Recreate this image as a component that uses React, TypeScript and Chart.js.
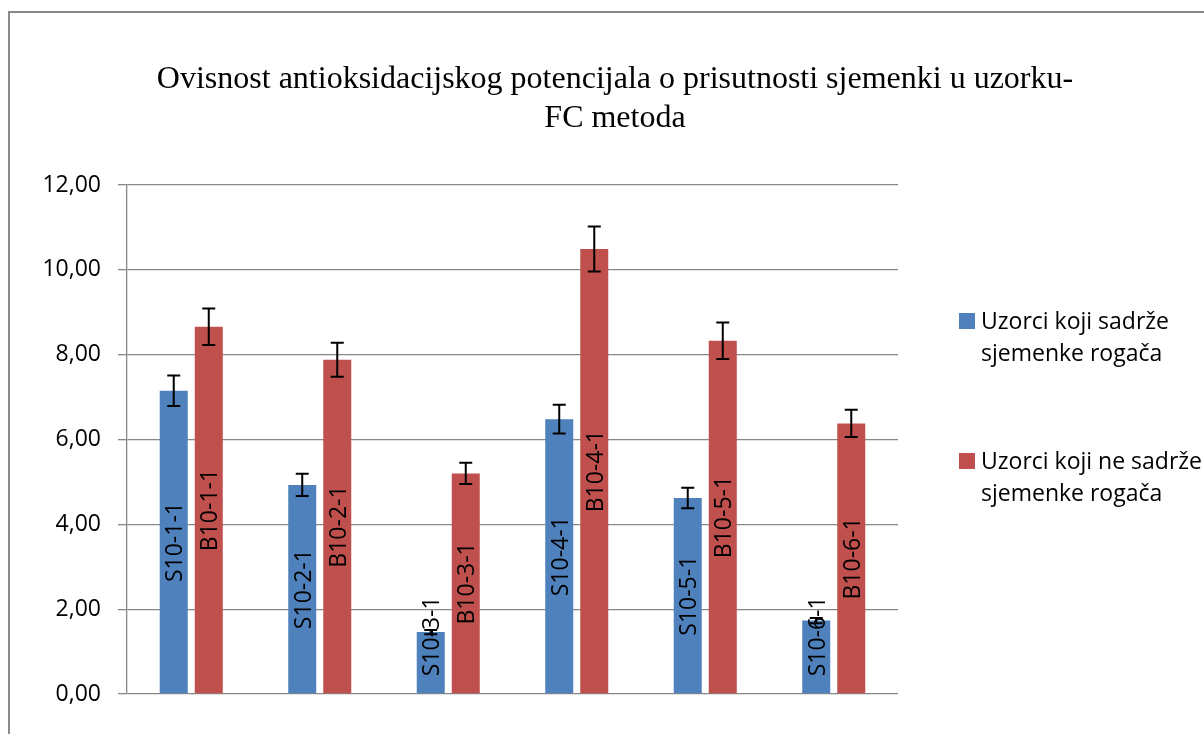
import React, { useEffect, useRef } from "react";
import { Chart, registerables } from "chart.js";

Chart.register(...registerables);

// ---- data ----
const categories = ["1", "2", "3", "4", "5", "6"];
const seriesNames = [
  "Uzorci koji sadrže sjemenke rogača",
  "Uzorci koji ne sadrže sjemenke rogača",
];
const withSeeds = [7.15, 4.93, 1.46, 6.48, 4.62, 1.73];
const withSeedsErr = [0.36, 0.26, 0.05, 0.34, 0.24, 0.06];
const withoutSeeds = [8.66, 7.88, 5.2, 10.49, 8.33, 6.38];
const withoutSeedsErr = [0.43, 0.4, 0.25, 0.53, 0.43, 0.32];
const withSeedsLabels = ["S10-1-1", "S10-2-1", "S10-3-1", "S10-4-1", "S10-5-1", "S10-6-1"];
const withoutSeedsLabels = ["B10-1-1", "B10-2-1", "B10-3-1", "B10-4-1", "B10-5-1", "B10-6-1"];
const titleLines = [
  "Ovisnost antioksidacijskog potencijala o prisutnosti sjemenki u uzorku-",
  "FC metoda",
];
const yMin = 0;
const yMax = 12;
const yStep = 2;

const BLUE = "#4F81BD";
const RED = "#C0504D";
const GRID = "#878787";
const SANS = "'Open Sans', sans-serif";
const SERIF = "'Liberation Serif', 'Times New Roman', serif";

const errors = [withSeedsErr, withoutSeedsErr];
const barLabels = [withSeedsLabels, withoutSeedsLabels];

function wrapWords(ctx: CanvasRenderingContext2D, text: string, maxW: number): string[] {
  const words = text.split(" ");
  const lines: string[] = [];
  let cur = "";
  for (const w of words) {
    const test = cur ? cur + " " + w : w;
    if (ctx.measureText(test).width > maxW && cur) {
      lines.push(cur);
      cur = w;
    } else cur = test;
  }
  if (cur) lines.push(cur);
  return lines;
}

const extrasPlugin = {
  id: "extras",
  afterDatasetsDraw(chart: any) {
    const ctx: CanvasRenderingContext2D = chart.ctx;
    const yScale = chart.scales.y;
    chart.data.datasets.forEach((ds: any, di: number) => {
      const meta = chart.getDatasetMeta(di);
      meta.data.forEach((el: any, i: number) => {
        const v = ds.data[i];
        const e = errors[di][i];
        const yt = yScale.getPixelForValue(v + e);
        const yb = yScale.getPixelForValue(v - e);
        ctx.save();
        ctx.strokeStyle = "#000";
        ctx.lineWidth = 2;
        ctx.beginPath();
        ctx.moveTo(el.x, yt);
        ctx.lineTo(el.x, yb);
        ctx.moveTo(el.x - 6.5, yt);
        ctx.lineTo(el.x + 6.5, yt);
        ctx.moveTo(el.x - 6.5, yb);
        ctx.lineTo(el.x + 6.5, yb);
        ctx.stroke();
        ctx.restore();
      });
    });
    // bar labels
    chart.data.datasets.forEach((ds: any, di: number) => {
      const meta = chart.getDatasetMeta(di);
      meta.data.forEach((el: any, i: number) => {
        const text = barLabels[di][i];
        ctx.save();
        ctx.font = `23px ${SANS}`;
        ctx.fillStyle = "#000";
        const w = ctx.measureText(text).width;
        let cy = (el.y + el.base) / 2;
        if (cy + w / 2 > el.base - 17) cy = el.base - 17 - w / 2;
        ctx.translate(el.x, cy);
        ctx.rotate(-Math.PI / 2);
        ctx.textAlign = "center";
        ctx.textBaseline = "alphabetic";
        ctx.fillText(text, 0, 8.5);
        ctx.restore();
      });
    });
  },
  afterDraw(chart: any) {
    const ctx: CanvasRenderingContext2D = chart.ctx;
    ctx.save();
    // title
    ctx.font = `32px ${SERIF}`;
    ctx.fillStyle = "#000";
    ctx.textAlign = "center";
    ctx.textBaseline = "alphabetic";
    const cx = chart.width / 2;
    titleLines.forEach((t, i) => ctx.fillText(t, cx, 75 + i * 39));
    // legend
    ctx.font = `23px ${SANS}`;
    ctx.textAlign = "left";
    const tops = [300, 440];
    chart.data.datasets.forEach((ds: any, di: number) => {
      const top = tops[di];
      ctx.fillStyle = ds.backgroundColor;
      ctx.fillRect(949, top, 16, 16);
      ctx.fillStyle = "#000";
      const lines = wrapWords(ctx, ds.label, 232);
      lines.forEach((ln, li) => ctx.fillText(ln, 971, top + 16 + li * 32));
    });
    ctx.restore();
  },
};

export default function App() {
  const ref = useRef<HTMLCanvasElement | null>(null);
  useEffect(() => {
    if (!ref.current) return;
    const chart = new Chart(ref.current, {
      type: "bar",
      data: {
        labels: categories,
        datasets: [
          {
            label: seriesNames[0],
            data: withSeeds,
            backgroundColor: BLUE,
            categoryPercentage: 0.545,
            barPercentage: 0.8,
          },
          {
            label: seriesNames[1],
            data: withoutSeeds,
            backgroundColor: RED,
            categoryPercentage: 0.545,
            barPercentage: 0.8,
          },
        ],
      },
      options: {
        responsive: false,
        animation: false,
        events: [],
        layout: { padding: { top: 172, left: 0, right: 322, bottom: 79 } },
        plugins: {
          legend: { display: false },
          title: { display: false },
          tooltip: { enabled: false },
        },
        scales: {
          x: {
            ticks: { display: false },
            grid: { display: false },
            border: { display: false },
            afterFit: (s: any) => {
              s.height = 0;
            },
          },
          y: {
            min: yMin,
            max: yMax,
            ticks: {
              stepSize: yStep,
              color: "#000",
              padding: 17,
              font: { family: SANS, size: 23 },
              callback: (v: any) => Number(v).toFixed(2).replace(".", ","),
            },
            grid: { color: GRID, lineWidth: 1.3, tickLength: 9, drawTicks: true },
            border: { display: true, color: GRID, width: 1.3 },
            afterFit: (s: any) => {
              s.width = 117;
            },
          },
        },
      },
      plugins: [extrasPlugin],
    });
    return () => chart.destroy();
  }, []);

  return (
    <>
      <style>{`html,body{overflow:hidden;}`}</style>
      <div
        style={{
          position: "absolute",
          left: 8,
          top: 11,
          width: 1210,
          height: 760,
          border: "2px solid #8a8a8a",
          background: "#fff",
        }}
      >
        <canvas ref={ref} width={1210} height={760} style={{ display: "block" }} />
      </div>
    </>
  );
}
